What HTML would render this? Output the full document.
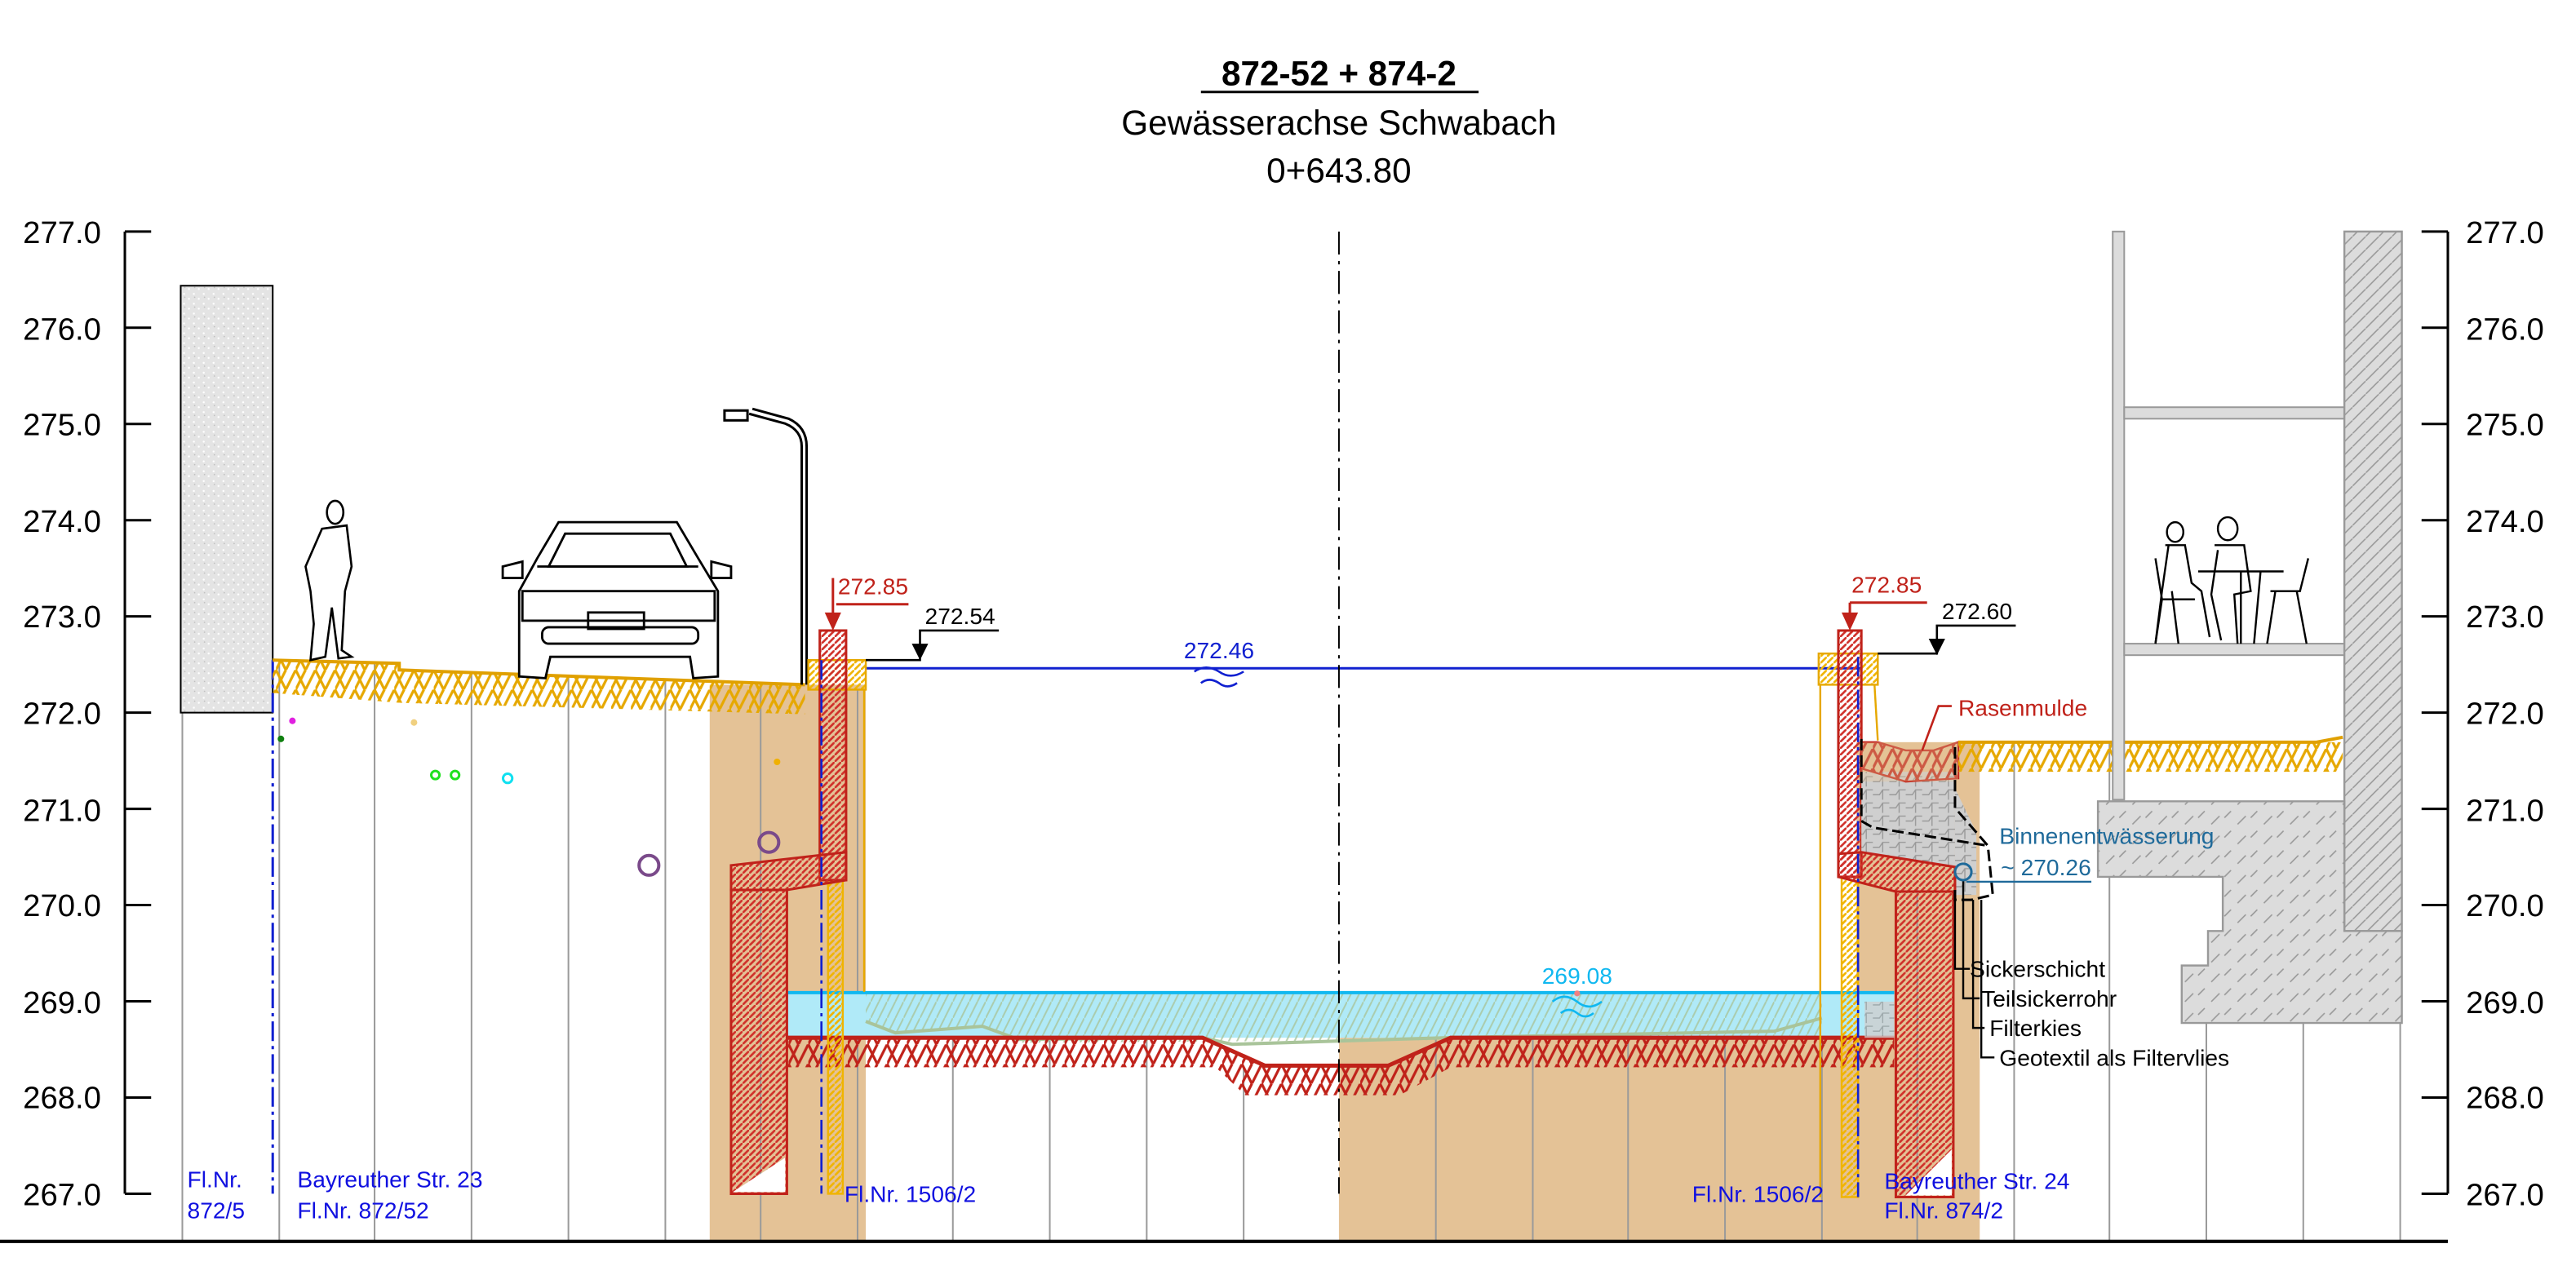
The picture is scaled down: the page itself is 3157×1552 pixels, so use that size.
<!DOCTYPE html>
<html><head><meta charset="utf-8"><style>
html,body{margin:0;padding:0;background:#fff}
svg{display:block}
text{font-family:"Liberation Sans",sans-serif}
</style></head><body>
<svg width="3157" height="1552" viewBox="0 0 1568 771" preserveAspectRatio="none" xmlns="http://www.w3.org/2000/svg">
<defs>
<pattern id="hy" width="12" height="12" patternUnits="userSpaceOnUse">
<path d="M0 12L6 0M6 12L12 0M0 0L6 12" stroke="#e6a800" stroke-width="1.6" fill="none"/>
</pattern>
<pattern id="hr" width="12" height="12" patternUnits="userSpaceOnUse">
<path d="M0 12L6 0M6 12L12 0M0 0L6 12" stroke="#c0221a" stroke-width="1.6" fill="none"/>
</pattern>
<pattern id="rd" width="4" height="4" patternUnits="userSpaceOnUse">
<path d="M0 4L4 0" stroke="#d0302a" stroke-width="1.3"/>
</pattern>
<pattern id="yd" width="4" height="4" patternUnits="userSpaceOnUse">
<path d="M0 4L4 0" stroke="#f0b400" stroke-width="1.3"/>
</pattern>
<pattern id="gd" width="8" height="8" patternUnits="userSpaceOnUse">
<rect width="8" height="8" fill="#dcdcdc"/><path d="M0 8L8 0" stroke="#999" stroke-width="0.8"/>
</pattern>
<pattern id="gf" width="16" height="12" patternUnits="userSpaceOnUse">
<rect width="16" height="12" fill="#dcdcdc"/><path d="M2 10L7 5M10 6L14 2" stroke="#999" stroke-width="0.8"/>
</pattern>
<pattern id="conc" width="6" height="6" patternUnits="userSpaceOnUse">
<rect width="6" height="6" fill="#e4e4e4"/><circle cx="1" cy="2" r="0.6" fill="#fff"/><circle cx="4" cy="5" r="0.6" fill="#fff"/><circle cx="4.5" cy="1" r="0.4" fill="#bbb"/>
</pattern>
<pattern id="grav" width="10" height="8" patternUnits="userSpaceOnUse">
<rect width="10" height="8" fill="#cfcfcf"/><path d="M0 4h4l2-3h4M6 1v6" stroke="#999" stroke-width="0.7" fill="none"/>
</pattern>
<pattern id="gh" width="10" height="10" patternUnits="userSpaceOnUse">
<path d="M0 10L5 0M5 10L10 0" stroke="#a9c49a" stroke-width="1" fill="none"/>
</pattern>
</defs>

<!-- Title -->
<text x="815" y="52" text-anchor="middle" font-size="21" font-weight="bold">872-52 + 874-2</text>
<line x1="731" y1="56" x2="900" y2="56" stroke="#000" stroke-width="1.5"/>
<text x="815" y="82" text-anchor="middle" font-size="21">Gewässerachse Schwabach</text>
<text x="815" y="111" text-anchor="middle" font-size="21">0+643.80</text>

<!-- tan soil -->
<rect x="432" y="417" width="95" height="339" fill="#e4c296"/>
<rect x="815" y="632" width="390" height="124" fill="#e4c296"/>
<rect x="1130" y="452" width="75" height="304" fill="#e4c296"/>

<!-- grid lines -->
<g stroke="#9a9a9a" stroke-width="1">
<line x1="111" y1="434" x2="111" y2="756"/>
<line x1="170" y1="402" x2="170" y2="756"/>
<line x1="228" y1="404" x2="228" y2="756"/>
<line x1="287" y1="410" x2="287" y2="756"/>
<line x1="346" y1="412" x2="346" y2="756"/>
<line x1="405" y1="414" x2="405" y2="756"/>
<line x1="463" y1="416" x2="463" y2="756"/>
<line x1="522" y1="420" x2="522" y2="756"/>
<line x1="580" y1="632" x2="580" y2="756"/>
<line x1="639" y1="632" x2="639" y2="756"/>
<line x1="698" y1="632" x2="698" y2="756"/>
<line x1="757" y1="650" x2="757" y2="756"/>
<line x1="874" y1="632" x2="874" y2="756"/>
<line x1="933" y1="632" x2="933" y2="756"/>
<line x1="991" y1="632" x2="991" y2="756"/>
<line x1="1050" y1="632" x2="1050" y2="756"/>
<line x1="1109" y1="632" x2="1109" y2="756"/>
<line x1="1167" y1="540" x2="1167" y2="756"/>
<line x1="1226" y1="452" x2="1226" y2="756"/>
<line x1="1284" y1="452" x2="1284" y2="756"/>
<line x1="1343" y1="623" x2="1343" y2="756"/>
<line x1="1402" y1="623" x2="1402" y2="756"/>
<line x1="1461" y1="623" x2="1461" y2="756"/>
</g>

<!-- axes -->
<g stroke="#000" stroke-width="1.5">
<line x1="76" y1="141" x2="76" y2="727"/>
<line x1="1490" y1="141" x2="1490" y2="727"/>
<line x1="0" y1="756" x2="1490" y2="756" stroke-width="2"/>
</g>
<g stroke="#000" stroke-width="1.5">
<line x1="76" y1="141" x2="92" y2="141"/><line x1="76" y1="199.6" x2="92" y2="199.6"/><line x1="76" y1="258.2" x2="92" y2="258.2"/><line x1="76" y1="316.8" x2="92" y2="316.8"/><line x1="76" y1="375.4" x2="92" y2="375.4"/><line x1="76" y1="434" x2="92" y2="434"/><line x1="76" y1="492.6" x2="92" y2="492.6"/><line x1="76" y1="551.2" x2="92" y2="551.2"/><line x1="76" y1="609.8" x2="92" y2="609.8"/><line x1="76" y1="668.4" x2="92" y2="668.4"/><line x1="76" y1="727" x2="92" y2="727"/>
<line x1="1474" y1="141" x2="1490" y2="141"/><line x1="1474" y1="199.6" x2="1490" y2="199.6"/><line x1="1474" y1="258.2" x2="1490" y2="258.2"/><line x1="1474" y1="316.8" x2="1490" y2="316.8"/><line x1="1474" y1="375.4" x2="1490" y2="375.4"/><line x1="1474" y1="434" x2="1490" y2="434"/><line x1="1474" y1="492.6" x2="1490" y2="492.6"/><line x1="1474" y1="551.2" x2="1490" y2="551.2"/><line x1="1474" y1="609.8" x2="1490" y2="609.8"/><line x1="1474" y1="668.4" x2="1490" y2="668.4"/><line x1="1474" y1="727" x2="1490" y2="727"/>
</g>
<g font-size="19">
<text x="14" y="148">277.0</text><text x="14" y="207">276.0</text><text x="14" y="265">275.0</text><text x="14" y="324">274.0</text><text x="14" y="382">273.0</text><text x="14" y="441">272.0</text><text x="14" y="500">271.0</text><text x="14" y="558">270.0</text><text x="14" y="617">269.0</text><text x="14" y="675">268.0</text><text x="14" y="734">267.0</text>
<text x="1501" y="148">277.0</text><text x="1501" y="207">276.0</text><text x="1501" y="265">275.0</text><text x="1501" y="324">274.0</text><text x="1501" y="382">273.0</text><text x="1501" y="441">272.0</text><text x="1501" y="500">271.0</text><text x="1501" y="558">270.0</text><text x="1501" y="617">269.0</text><text x="1501" y="675">268.0</text><text x="1501" y="734">267.0</text>
</g>

<!-- left concrete block -->
<rect x="110" y="174" width="56" height="260" fill="url(#conc)" stroke="#000" stroke-width="1"/>
<line x1="166" y1="402" x2="166" y2="727" stroke="#1020d0" stroke-width="1.5" stroke-dasharray="12,3,2,3"/>

<!-- left terrain -->
<path d="M166 402 L243 404 L243 408 L490 417 L490 435 L243 428 L166 422 Z" fill="url(#hy)"/>
<path d="M166 402 L243 404 L243 408 L490 417" stroke="#e0a000" stroke-width="2" fill="none"/>

<!-- pedestrian -->
<g stroke="#000" stroke-width="1.3" fill="#fff">
<ellipse cx="204" cy="312" rx="5" ry="7"/>
<path d="M196 322 L211 320 L214 345 L210 360 L208 396 L214 400 L206 401 L202 370 L198 400 L189 402 L191 380 L189 360 L186 345 Z"/>
</g>
<!-- car -->
<g stroke="#000" stroke-width="1.4" fill="none">
<path d="M316 412 L316 360 L327 340 L340 318 L412 318 L425 340 L437 360 L437 412 L422 413 L420 400 L335 400 L332 413 Z" fill="#fff"/>
<path d="M327 345 L425 345"/><rect x="318" y="360" width="117" height="18"/><rect x="330" y="382" width="95" height="10" rx="4"/>
<rect x="358" y="373" width="34" height="10"/><path d="M306 345 L318 342 L318 352 L306 352Z M445 345 L433 342 L433 352 L445 352Z"/>
<path d="M344 325 L408 325 L418 345 L334 345Z"/>
</g>
<!-- lamp post -->
<g stroke="#000" stroke-width="1.5" fill="none">
<path d="M488 417 L488 272 Q488 262 478 258 L456 252"/><path d="M491 417 L491 272 Q491 260 480 255 L458 249"/>
<rect x="441" y="250" width="14" height="6" fill="#fff"/>
</g>

<!-- dots -->
<circle cx="178" cy="439" r="2" fill="#e020e0"/>
<circle cx="171" cy="450" r="2" fill="#108010"/>
<circle cx="252" cy="440" r="2" fill="#f0d080"/>
<circle cx="265" cy="472" r="2.5" fill="none" stroke="#20e020" stroke-width="1.5"/>
<circle cx="277" cy="472" r="2.5" fill="none" stroke="#20e020" stroke-width="1.5"/>
<circle cx="309" cy="474" r="2.8" fill="none" stroke="#10e0f0" stroke-width="1.5"/>
<circle cx="395" cy="527" r="6" fill="none" stroke="#7a4a8a" stroke-width="2"/>
<circle cx="468" cy="513" r="6" fill="none" stroke="#7a4a8a" stroke-width="2"/>
<circle cx="473" cy="464" r="2" fill="#f0b000"/>

<!-- water pool -->
<rect x="479" y="604" width="674" height="28" fill="#b0eaf8"/>
<path d="M527 604 L527 623 L545 630 L598 625 L620 635 L1109 632 L1109 604" fill="url(#gh)" opacity="0.8"/>
<path d="M527 622 L545 629 L598 625 L620 633 L732 632 L750 636 L880 632 L1080 628 L1109 620" stroke="#a9c49a" stroke-width="2" fill="none"/>
<line x1="479" y1="604.5" x2="1153" y2="604.5" stroke="#10b8f0" stroke-width="2"/>
<!-- red bottom -->
<path d="M479 632 L732 632 L770 650 L845 650 L883 632 L1153 632 L1153 650 L883 650 L852 667 L758 667 L740 650 L479 650 Z" fill="url(#hr)"/>
<path d="M479 632 L732 632 L770 649 L845 649 L883 632 L1153 632" stroke="#c0221a" stroke-width="2.5" fill="none"/>
<rect x="1135" y="610" width="18" height="22" fill="url(#grav)" opacity="0.8"/>

<!-- water level top line -->
<line x1="527" y1="407" x2="1133" y2="407" stroke="#1020d0" stroke-width="1.5"/>
<text x="742" y="401" text-anchor="middle" font-size="14" fill="#1020d0">272.46</text>
<path d="M727 409 q7 -5 15 0 q7 5 15 0 M731 416 q5 -4 11 0 q5 4 11 0" stroke="#1020d0" stroke-width="1.3" fill="none"/>
<text x="960" y="599" text-anchor="middle" font-size="14" fill="#10b8f0">269.08</text>
<circle cx="960" cy="605" r="1.8" fill="#f08080"/>
<path d="M945 610 q7 -6 15 0 q7 6 15 0 M950 617 q5 -4 10 0 q5 4 10 0" stroke="#10b8f0" stroke-width="1.3" fill="none"/>

<!-- center line -->
<line x1="815" y1="141" x2="815" y2="727" stroke="#000" stroke-width="1" stroke-dasharray="14,4,2,4"/>

<!-- LEFT WALL -->
<rect x="492" y="402" width="35" height="18" fill="url(#yd)" stroke="#e6a800" stroke-width="1.2"/>
<line x1="526" y1="420" x2="526" y2="604" stroke="#e6a800" stroke-width="1.2"/>
<rect x="504" y="536" width="9" height="191" fill="url(#yd)" stroke="#f0b400" stroke-width="1.2"/>
<rect x="499" y="384" width="16" height="152" fill="url(#rd)" stroke="#c0221a" stroke-width="1.5"/>
<path d="M445 527 L515 519 L515 536 L479 542 L445 542 Z" fill="url(#rd)" stroke="#c0221a" stroke-width="1.5"/>
<path d="M445 542 L479 542 L479 727 L445 727 Z" fill="url(#rd)" stroke="#c0221a" stroke-width="1.5"/>
<path d="M446 726 L478 726 L478 705 Z" fill="#fff"/>
<line x1="500" y1="402" x2="500" y2="727" stroke="#1020d0" stroke-width="1.3" stroke-dasharray="12,3,2,3"/>
<path d="M507 352 L507 377 M509 368 L553 368" stroke="#c0221a" stroke-width="1.5"/>
<path d="M502 373 L512 373 L507 384 Z" fill="#c0221a"/>
<text x="510" y="362" font-size="14" fill="#c0221a">272.85</text>
<path d="M527 402 L560 402 L560 384 L608 384" stroke="#000" stroke-width="1.3" fill="none"/>
<path d="M555 392 L565 392 L560 402 Z" fill="#000"/>
<text x="563" y="380" font-size="14">272.54</text>

<!-- RIGHT WALL -->
<rect x="1107" y="398" width="36" height="19" fill="url(#yd)" stroke="#e6a800" stroke-width="1.2"/>
<line x1="1108" y1="417" x2="1108" y2="729" stroke="#e6a800" stroke-width="1.2"/>
<line x1="1141" y1="417" x2="1143" y2="451" stroke="#e6a800" stroke-width="1.2"/>
<rect x="1121" y="534" width="10" height="195" fill="url(#yd)" stroke="#f0b400" stroke-width="1.2"/>
<rect x="1119" y="384" width="14" height="150" fill="url(#rd)" stroke="#c0221a" stroke-width="1.5"/>
<path d="M1133 470 L1190 470 L1190 528 L1133 519 Z" fill="url(#grav)"/>
<path d="M1190 480 L1203 507 L1203 545 L1190 545 Z" fill="url(#grav)"/>
<path d="M1133 452 L1143 452 L1160 457 L1177 457 L1192 452 L1192 474 L1160 476 L1133 468 Z" fill="url(#hr)" stroke="#c0221a" stroke-width="1.2"/>
<rect x="1133" y="452" width="59" height="24" fill="#e4c296" opacity="0.35"/>
<path d="M1119 520 L1133 519 L1190 528 L1190 543 L1154 543 L1119 534 Z" fill="url(#rd)" stroke="#c0221a" stroke-width="1.5"/>
<path d="M1154 543 L1189 543 L1189 729 L1154 729 Z" fill="url(#rd)" stroke="#c0221a" stroke-width="1.5"/>
<path d="M1160 728 L1188 728 L1188 700 Z" fill="#fff"/>
<line x1="1131" y1="400" x2="1131" y2="729" stroke="#1020d0" stroke-width="1.3" stroke-dasharray="12,3,2,3"/>
<path d="M1133 450 L1133 500 L1140 504 L1210 515 M1190 455 L1190 492 L1210 515 L1213 545 L1200 548 L1190 548 L1190 540" stroke="#000" stroke-width="1.5" stroke-dasharray="7,3" fill="none"/>
<g stroke="#000" stroke-width="1.2" fill="none">
<path d="M1190 545 L1190 590 L1199 590"/><path d="M1195 536 L1195 608 L1205 608"/><path d="M1201 548 L1201 626 L1208 626"/><path d="M1206 548 L1206 644 L1214 644"/>
</g>
<g font-size="14">
<text x="1199" y="595">Sickerschicht</text><text x="1206" y="613">Teilsickerrohr</text><text x="1211" y="631">Filterkies</text><text x="1217" y="649">Geotextil als Filtervlies</text>
</g>
<path d="M1170 457 L1180 430 L1188 430" stroke="#c0221a" stroke-width="1.3" fill="none"/>
<text x="1192" y="436" font-size="14" fill="#c0221a">Rasenmulde</text>
<path d="M1126 367 L1126 377 M1126 367 L1173 367" stroke="#c0221a" stroke-width="1.5" fill="none"/>
<path d="M1121 373 L1131 373 L1126 384 Z" fill="#c0221a"/>
<text x="1127" y="361" font-size="14" fill="#c0221a">272.85</text>
<path d="M1143 398 L1179 398 L1179 381 L1227 381" stroke="#000" stroke-width="1.3" fill="none"/>
<path d="M1174 389 L1184 389 L1179 399 Z" fill="#000"/>
<text x="1182" y="377" font-size="14">272.60</text>

<!-- right terrain -->
<path d="M1192 452 L1426 452 L1426 470 L1192 470 Z" fill="url(#hy)"/>
<path d="M1192 452 L1410 452 L1426 449" stroke="#e0a000" stroke-width="2" fill="none"/>

<!-- building -->
<rect x="1286" y="141" width="7" height="346" fill="#dcdcdc" stroke="#999" stroke-width="1"/>
<rect x="1293" y="248" width="134" height="7" fill="#dcdcdc" stroke="#999" stroke-width="1"/>
<rect x="1293" y="392" width="134" height="7" fill="#dcdcdc" stroke="#999" stroke-width="1"/>
<rect x="1427" y="141" width="35" height="426" fill="url(#gd)" stroke="#999" stroke-width="1.2"/>
<path d="M1277 488 L1427 488 L1427 567 L1462 567 L1462 623 L1328 623 L1328 588 L1344 588 L1344 567 L1353 567 L1353 534 L1277 534 Z" fill="url(#gf)" stroke="#999" stroke-width="1.2"/>
<g stroke="#000" stroke-width="1.2" fill="none">
<ellipse cx="1324" cy="324" rx="5" ry="6"/><path d="M1318 332 L1330 332 L1334 355 L1340 360 L1345 388 M1320 332 L1316 360 L1312 392 M1322 360 L1326 392"/>
<ellipse cx="1356" cy="322" rx="6" ry="7"/><path d="M1348 332 L1366 332 L1370 360 L1360 362 L1362 392 M1350 335 L1346 362 L1352 390"/>
<path d="M1338 348 L1390 348 M1364 348 L1364 392 M1376 348 L1372 392"/>
<path d="M1382 360 L1400 360 L1405 340 M1385 360 L1380 392 M1398 360 L1404 392"/>
<path d="M1312 340 L1316 365 L1336 365 M1316 365 L1312 392"/>
</g>

<!-- Binnenentwässerung label (on top of building) -->
<circle cx="1195" cy="531" r="5" fill="none" stroke="#1f6a9a" stroke-width="1.5"/>
<line x1="1197" y1="537" x2="1273" y2="537" stroke="#1f6a9a" stroke-width="1.2"/>
<text x="1217" y="514" font-size="14" fill="#1f6a9a">Binnenentwässerung</text>
<text x="1218" y="533" font-size="14" fill="#1f6a9a">~ 270.26</text>

<!-- bottom labels -->
<g font-size="14" fill="#1010e0">
<text x="114" y="723">Fl.Nr.</text><text x="114" y="742">872/5</text>
<text x="181" y="723">Bayreuther Str. 23</text><text x="181" y="742">Fl.Nr. 872/52</text>
<text x="514" y="732">Fl.Nr. 1506/2</text>
<text x="1030" y="732">Fl.Nr. 1506/2</text>
<text x="1147" y="724">Bayreuther Str. 24</text><text x="1147" y="742">Fl.Nr. 874/2</text>
</g>
</svg>
</body></html>
